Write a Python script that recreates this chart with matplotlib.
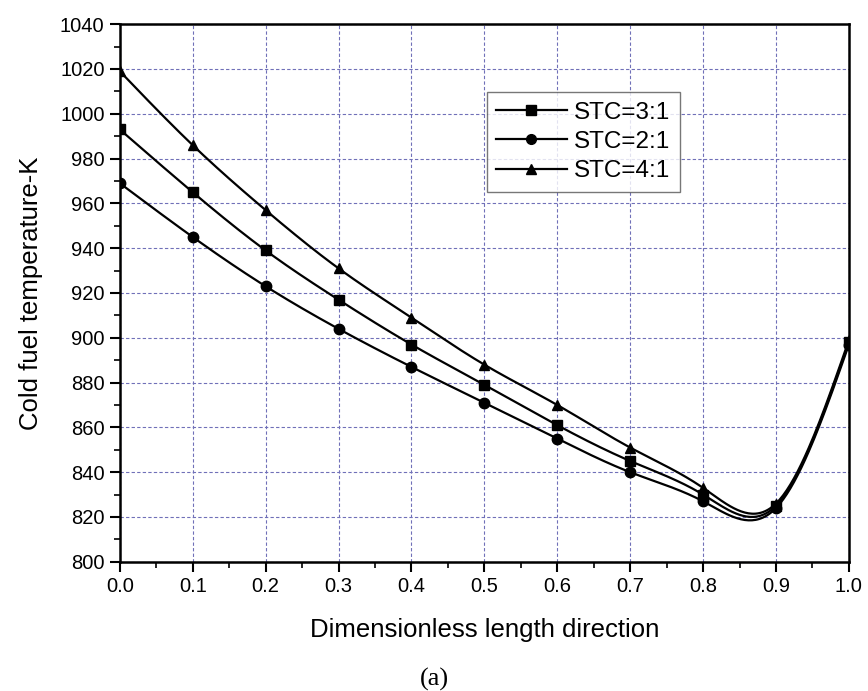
import numpy as np
import matplotlib
matplotlib.use('Agg')
import matplotlib.pyplot as plt
from matplotlib.ticker import MultipleLocator

# values (x = 0.0 ... 1.0)
x = [0.0, 0.1, 0.2, 0.3, 0.4, 0.5, 0.6, 0.7, 0.8, 0.9, 1.0]
stc_3 = [993, 965, 939, 917, 897, 879, 861, 845, 830, 825, 898]
stc_2 = [969, 945, 923, 904, 887, 871, 855, 840, 827, 824, 897]
stc_4 = [1019, 986, 957, 931, 909, 888, 870, 851, 833, 826, 899]
labels = ['STC=3:1', 'STC=2:1', 'STC=4:1']
markers = ['s', 'o', '^']


def natural_spline(xs, ys, n=400):
    # plain natural cubic spline, no scipy needed
    xs = np.asarray(xs, float)
    ys = np.asarray(ys, float)
    k = len(xs)
    h = np.diff(xs)
    A = np.zeros((k, k))
    b = np.zeros(k)
    A[0, 0] = A[-1, -1] = 1
    for i in range(1, k - 1):
        A[i, i - 1] = h[i - 1]
        A[i, i] = 2 * (h[i - 1] + h[i])
        A[i, i + 1] = h[i]
        b[i] = 3 * ((ys[i + 1] - ys[i]) / h[i] - (ys[i] - ys[i - 1]) / h[i - 1])
    c = np.linalg.solve(A, b)
    xf = np.linspace(xs[0], xs[-1], n)
    idx = np.clip(np.searchsorted(xs, xf) - 1, 0, k - 2)
    dx = xf - xs[idx]
    bb = (ys[1:] - ys[:-1]) / h - h * (2 * c[:-1] + c[1:]) / 3
    dd = (c[1:] - c[:-1]) / (3 * h)
    yf = ys[idx] + bb[idx] * dx + c[idx] * dx ** 2 + dd[idx] * dx ** 3
    return xf, yf


plt.rcParams['font.family'] = ['Liberation Sans', 'DejaVu Sans']

fig = plt.figure(figsize=(8.68, 6.91), dpi=100)
ax = fig.add_axes([0.138, 0.187, 0.84, 0.778])

for ys, lab, m in zip([stc_3, stc_2, stc_4], labels, markers):
    xf, yf = natural_spline(x, ys)
    ax.plot(xf, yf, color='black', lw=1.6)
    ax.plot(x, ys, linestyle='none', marker=m, color='black', markersize=7.5)
    ax.plot([], [], color='black', lw=1.6, marker=m, markersize=7, label=lab)

ax.set_xlim(0, 1.0)
ax.set_ylim(800, 1040)
ax.xaxis.set_major_locator(MultipleLocator(0.1))
ax.xaxis.set_minor_locator(MultipleLocator(0.05))
ax.yaxis.set_major_locator(MultipleLocator(20))
ax.yaxis.set_minor_locator(MultipleLocator(10))
ax.xaxis.set_major_formatter(plt.FormatStrFormatter('%.1f'))

ax.grid(True, which='major', color='#7070b8', linestyle=(0, (3, 2)), lw=0.8)
ax.tick_params(which='major', direction='out', length=7, width=1.5,
               labelsize=14.5, pad=4)
ax.tick_params(which='minor', direction='out', length=4, width=1.2)
for sp in ax.spines.values():
    sp.set_linewidth(1.8)

ax.set_xlabel('Dimensionless length direction', fontsize=18.5, labelpad=16)
ax.set_ylabel('Cold fuel temperature-K', fontsize=18.5, labelpad=12)

leg = ax.legend(loc='upper left', bbox_to_anchor=(0.503, 0.874), fontsize=17.5,
                frameon=True, fancybox=False, edgecolor='#555555',
                handlelength=2.9, borderpad=0.4, labelspacing=0.3,
                handletextpad=0.3, borderaxespad=0)
leg.get_frame().set_linewidth(1.0)

fig.text(0.5, 0.0, '(a)', ha='center', va='bottom', fontsize=19,
         family=['Liberation Serif', 'DejaVu Serif'])

fig.savefig('out.png', dpi=100)
